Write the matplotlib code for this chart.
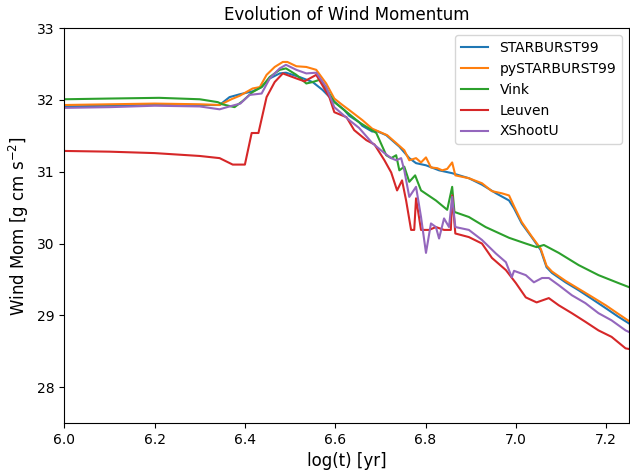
import matplotlib
matplotlib.use('Agg')
import matplotlib.pyplot as plt
import numpy as np

# data
sb99_t = [6.0, 6.1, 6.2, 6.3, 6.344, 6.366, 6.389, 6.417, 6.437, 6.455, 6.477, 6.491,
          6.521, 6.55, 6.572, 6.594, 6.62, 6.631, 6.653, 6.66, 6.682, 6.691, 6.713,
          6.742, 6.764, 6.779, 6.801, 6.83, 6.859, 6.896, 6.925, 6.956, 6.985,
          6.996, 7.013, 7.035, 7.055, 7.068, 7.08, 7.11, 7.139, 7.168, 7.199,
          7.227, 7.26]
sb99_m = [31.91, 31.92, 31.94, 31.93, 31.93, 32.04, 32.08, 32.12, 32.18, 32.30, 32.37, 32.38,
          32.32, 32.25, 32.14, 32.0, 31.86, 31.78, 31.69, 31.64, 31.56, 31.57, 31.51,
          31.35, 31.19, 31.12, 31.09, 31.02, 30.98, 30.91, 30.82, 30.70, 30.60,
          30.49, 30.28, 30.09, 29.91, 29.67, 29.59, 29.46, 29.35, 29.23, 29.10,
          28.98, 28.85]

pysb99_t = [6.0, 6.1, 6.2, 6.3, 6.344, 6.37, 6.389, 6.417, 6.433, 6.448, 6.466, 6.484,
            6.494, 6.514, 6.536, 6.558, 6.58, 6.598, 6.616, 6.631, 6.66, 6.682,
            6.715, 6.735, 6.753, 6.764, 6.779, 6.79, 6.801, 6.812, 6.826, 6.837,
            6.848, 6.859, 6.866, 6.896, 6.925, 6.947, 6.969, 6.985, 6.996, 7.013,
            7.035, 7.055, 7.068, 7.08, 7.11, 7.139, 7.168, 7.199, 7.227, 7.26]
pysb99_m = [31.93, 31.94, 31.95, 31.94, 31.93, 32.01, 32.06, 32.16, 32.18, 32.35, 32.46, 32.53,
            32.53, 32.47, 32.46, 32.42, 32.23, 32.02, 31.93, 31.86, 31.72, 31.60,
            31.51, 31.40, 31.30, 31.16, 31.19, 31.13, 31.20, 31.06, 31.05, 31.02,
            31.04, 31.13, 30.95, 30.91, 30.84, 30.73, 30.70, 30.67, 30.52, 30.30,
            30.10, 29.93, 29.69, 29.61, 29.48, 29.37, 29.26, 29.14, 29.02, 28.88]

vink_t = [6.0, 6.1, 6.21, 6.3, 6.34, 6.35, 6.377, 6.396, 6.417, 6.437, 6.455, 6.477,
          6.491, 6.514, 6.536, 6.55, 6.565, 6.58, 6.598, 6.62, 6.653, 6.691, 6.713,
          6.724, 6.735, 6.742, 6.753, 6.764, 6.777, 6.79, 6.823, 6.848, 6.859,
          6.864, 6.896, 6.933, 6.985, 7.022, 7.046, 7.062, 7.095, 7.139, 7.183,
          7.227, 7.26]
vink_m = [32.01, 32.02, 32.03, 32.01, 31.97, 31.94, 31.90, 31.99, 32.11, 32.18, 32.32, 32.42,
          32.44, 32.35, 32.23, 32.25, 32.28, 32.16, 31.97, 31.86, 31.69, 31.54, 31.23,
          31.19, 31.23, 31.02, 31.07, 30.86, 30.95, 30.74, 30.60, 30.47, 30.79,
          30.44, 30.37, 30.23, 30.08, 30.0, 29.95, 29.98, 29.87, 29.70, 29.56,
          29.45, 29.37]

leuven_t = [6.0, 6.1, 6.2, 6.3, 6.344, 6.373, 6.395, 6.40, 6.415, 6.43, 6.448, 6.466,
            6.484, 6.514, 6.532, 6.558, 6.587, 6.598, 6.625, 6.642, 6.669, 6.687,
            6.709, 6.724, 6.737, 6.748, 6.757, 6.768, 6.775, 6.779, 6.79, 6.808,
            6.823, 6.841, 6.856, 6.859, 6.866, 6.896, 6.925, 6.947, 6.978, 7.0,
            7.022, 7.046, 7.073, 7.095, 7.124, 7.154, 7.183, 7.212, 7.243, 7.26]
leuven_m = [31.29, 31.28, 31.26, 31.22, 31.19, 31.10, 31.10, 31.10, 31.54, 31.54, 32.04, 32.25,
            32.37, 32.30, 32.26, 32.35, 32.04, 31.83, 31.76, 31.58, 31.44, 31.38,
            31.16, 30.99, 30.74, 30.88, 30.60, 30.19, 30.19, 30.63, 30.19, 30.19,
            30.23, 30.19, 30.19, 30.67, 30.14, 30.09, 30.0, 29.80, 29.63, 29.45,
            29.25, 29.18, 29.24, 29.14, 29.03, 28.91, 28.79, 28.70, 28.54, 28.52]

xshootu_t = [6.0, 6.1, 6.2, 6.3, 6.344, 6.366, 6.39, 6.41, 6.437, 6.455, 6.477, 6.491,
             6.514, 6.536, 6.558, 6.58, 6.598, 6.62, 6.631, 6.653, 6.682, 6.709,
             6.724, 6.735, 6.746, 6.753, 6.764, 6.779, 6.79, 6.801, 6.812, 6.823,
             6.83, 6.841, 6.852, 6.859, 6.866, 6.896, 6.925, 6.956, 6.978, 6.991,
             6.996, 7.022, 7.04, 7.058, 7.073, 7.095, 7.124, 7.154, 7.183, 7.212,
             7.243, 7.26]
xshootu_m = [31.89, 31.90, 31.92, 31.91, 31.87, 31.91, 31.95, 32.07, 32.09, 32.30, 32.44, 32.49,
             32.42, 32.37, 32.38, 32.18, 31.90, 31.78, 31.72, 31.61, 31.40, 31.26,
             31.19, 31.16, 31.19, 31.02, 30.65, 30.79, 30.37, 29.87, 30.28, 30.23,
             30.07, 30.35, 30.23, 30.65, 30.23, 30.19, 30.05, 29.86, 29.74, 29.53,
             29.62, 29.56, 29.46, 29.52, 29.52, 29.42, 29.28, 29.17, 29.03, 28.93,
             28.79, 28.74]

fig, ax = plt.subplots(figsize=(6.3, 4.7), dpi=100)
ax.plot(sb99_t, sb99_m, label='STARBURST99')
ax.plot(pysb99_t, pysb99_m, label='pySTARBURST99')
ax.plot(vink_t, vink_m, label='Vink')
ax.plot(leuven_t, leuven_m, label='Leuven')
ax.plot(xshootu_t, xshootu_m, label='XShootU')

ax.set_xlim(6.0, 7.25)
ax.set_ylim(27.5, 33)
ax.set_xlabel('log(t) [yr]', fontsize=12)
ax.set_ylabel('Wind Mom [g cm s$^{-2}$]', fontsize=12)
ax.set_title('Evolution of Wind Momentum', fontsize=12)
ax.legend(loc='upper right')

plt.subplots_adjust(left=0.102, right=0.998, top=0.94, bottom=0.1)
plt.savefig('out.png')
